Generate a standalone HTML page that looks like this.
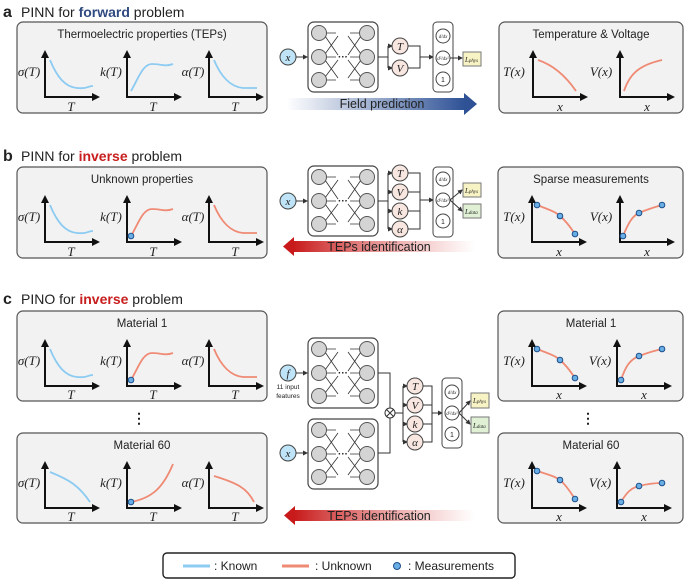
<!DOCTYPE html>
<html><head><meta charset="utf-8"><style>
html,body{margin:0;padding:0;background:#fff}
svg{display:block}
.t{font-family:"Liberation Sans",sans-serif;fill:#222}
.m{font-family:"Liberation Serif",serif;font-style:italic;fill:#222}
.bx{fill:#f2f2f2;stroke:#555;stroke-width:1.2}
.ax{stroke:#111;stroke-width:2;fill:none}
.bl{stroke:#8ccbf2;stroke-width:1.8;fill:none}
.rd{stroke:#ef8a74;stroke-width:1.8;fill:none}
.dt{fill:#6aaee6;stroke:#1d4f8a;stroke-width:1}
.ln{stroke:#333;stroke-width:1;fill:none}
.on{fill:#f8e6e0;stroke:#444;stroke-width:1}
</style></head><body>
<svg width="685" height="581" viewBox="0 0 685 581" xmlns="http://www.w3.org/2000/svg">
<defs>
<marker id="sa" markerWidth="5" markerHeight="5" refX="4" refY="2.5" orient="auto" markerUnits="userSpaceOnUse"><path d="M0,0 L5,2.5 L0,5 z" fill="#333"/></marker>
<g id="axes">
<line class="ax" x1="0" y1="0" x2="0" y2="-40" /><path d="M-4,-39 L0,-47 L4,-39z" fill="#111"/>
<line class="ax" x1="-1" y1="0" x2="48" y2="0"/><path d="M47,-4 L55,0 L47,4z" fill="#111"/>
</g>
<g id="net">
<rect x="0" y="0" width="70" height="70" rx="6" fill="#fff" stroke="#444" stroke-width="1.2"/>
<g stroke="#333" stroke-width="0.8" fill="none">
<path d="M18,11 H28 M18,35 H28 M18,58 H28 M52,11 H42 M52,35 H42 M52,58 H42"/>
<path d="M17,14 L30,33 M17,32 L30,14 M17,38 L30,56 M17,55 L30,38"/>
<path d="M53,14 L40,33 M53,32 L40,14 M53,38 L40,56 M53,55 L40,38"/>
</g>
<g fill="#d4d4d4" stroke="#555" stroke-width="1">
<circle cx="11" cy="11" r="7.5"/><circle cx="11" cy="35" r="7.5"/><circle cx="11" cy="58" r="7.5"/>
<circle cx="59" cy="11" r="7.5"/><circle cx="59" cy="35" r="7.5"/><circle cx="59" cy="58" r="7.5"/>
</g>
<text x="35" y="38" text-anchor="middle" class="t" font-size="10" font-weight="bold">···</text>
</g>
<linearGradient id="gb" x1="0" x2="1"><stop offset="0" stop-color="#3d5fa0" stop-opacity="0"/><stop offset="1" stop-color="#2f5296"/></linearGradient>
<linearGradient id="gr" x1="0" x2="1"><stop offset="0" stop-color="#c81a1a"/><stop offset="1" stop-color="#e06060" stop-opacity="0"/></linearGradient>
</defs>

<!-- ===== A ===== -->
<text x="3" y="17" class="t" font-size="16" font-weight="bold">a</text>
<text x="21" y="17" class="t" font-size="14">PINN for <tspan font-weight="bold" fill="#2f4a80">forward</tspan> problem</text>
<rect class="bx" x="17" y="22" width="250" height="91" rx="6"/>
<text x="142" y="38" text-anchor="middle" class="t" font-size="11.5">Thermoelectric properties (TEPs)</text>
<use href="#axes" x="45" y="97"/><use href="#axes" x="127" y="97"/><use href="#axes" x="209" y="97"/>
<text x="29" y="76" text-anchor="middle" class="m" font-size="13">σ(T)</text>
<text x="111" y="76" text-anchor="middle" class="m" font-size="13">k(T)</text>
<text x="193" y="76" text-anchor="middle" class="m" font-size="13">α(T)</text>
<text x="71" y="111" text-anchor="middle" class="m" font-size="13">T</text>
<text x="153" y="111" text-anchor="middle" class="m" font-size="13">T</text>
<text x="235" y="111" text-anchor="middle" class="m" font-size="13">T</text>
<path class="bl" transform="translate(45,97)" d="M5,-37 C12,-20 20,-10 32,-9 S42,-11 48,-11"/>
<path class="bl" transform="translate(127,97)" d="M4,-6 C12,-20 16,-33 25,-33 S38,-30 46,-33"/>
<path class="bl" transform="translate(209,97)" d="M5,-37 C12,-20 22,-10 34,-9 L48,-9"/>

<use href="#net" x="308" y="22"/>
<circle cx="288" cy="57" r="8" fill="#bfe3f7" stroke="#444"/><text x="288" y="61" text-anchor="middle" class="m" font-size="11">x</text>
<line class="ln" x1="296" y1="57" x2="307" y2="57" marker-end="url(#sa)"/>
<path class="ln" d="M378,57 H388 M388,46 V68"/>
<line class="ln" x1="388" y1="46" x2="392" y2="46" marker-end="url(#sa)"/><line class="ln" x1="388" y1="68" x2="392" y2="68" marker-end="url(#sa)"/>
<circle class="on" cx="400" cy="46" r="8"/><text x="400" y="50" text-anchor="middle" class="m" font-size="11">T</text>
<circle class="on" cx="400" cy="68" r="8"/><text x="400" y="72" text-anchor="middle" class="m" font-size="11">V</text>
<path class="ln" d="M408,46 H420 V68 H408 M420,57 H432" /><line class="ln" x1="420" y1="57" x2="433" y2="57" marker-end="url(#sa)"/>
<rect x="433" y="22" width="20" height="70" rx="4" fill="#fff" stroke="#444"/>
<circle cx="443" cy="36" r="7" fill="#fff" stroke="#444"/><text x="443" y="38" text-anchor="middle" class="m" font-size="5">d/dx</text>
<circle cx="443" cy="58" r="7" fill="#fff" stroke="#444"/><text x="443" y="60" text-anchor="middle" class="m" font-size="5">d²/dx²</text>
<circle cx="443" cy="79" r="7" fill="#fff" stroke="#444"/><text x="443" y="82" text-anchor="middle" class="t" font-size="7">1</text>
<line class="ln" x1="450" y1="58" x2="462" y2="58" marker-end="url(#sa)"/>
<rect x="463" y="52" width="18" height="14" fill="#f8f3c4" stroke="#777"/><text x="465" y="62" class="m" font-size="7">L<tspan font-size="5">phys</tspan></text>
<rect x="286" y="98" width="178" height="12" fill="url(#gb)"/><path d="M464,93 L477,104 L464,115z" fill="#2f5296"/>
<text x="382" y="108" text-anchor="middle" class="t" font-size="12.5">Field prediction</text>
<rect class="bx" x="499" y="22" width="184" height="91" rx="6"/>
<text x="591" y="38" text-anchor="middle" class="t" font-size="11.5">Temperature &amp; Voltage</text>
<use href="#axes" x="533" y="97"/><use href="#axes" x="620" y="97"/>
<text x="514" y="76" text-anchor="middle" class="m" font-size="13">T(x)</text>
<text x="601" y="76" text-anchor="middle" class="m" font-size="13">V(x)</text>
<text x="560" y="111" text-anchor="middle" class="m" font-size="13">x</text>
<text x="647" y="111" text-anchor="middle" class="m" font-size="13">x</text>
<path class="rd" transform="translate(533,97)" d="M5,-37 C20,-32 32,-22 43,-6"/>
<path class="rd" transform="translate(620,97)" d="M4,-6 C10,-24 20,-32 42,-37"/>

<!-- ===== B ===== -->
<text x="3" y="161" class="t" font-size="16" font-weight="bold">b</text>
<text x="21" y="161" class="t" font-size="14">PINN for <tspan font-weight="bold" fill="#c81e1e">inverse</tspan> problem</text>
<rect class="bx" x="17" y="167" width="250" height="91" rx="6"/>
<text x="142" y="183" text-anchor="middle" class="t" font-size="11.5">Unknown properties</text>
<use href="#axes" x="45" y="242"/><use href="#axes" x="127" y="242"/><use href="#axes" x="209" y="242"/>
<text x="29" y="221" text-anchor="middle" class="m" font-size="13">σ(T)</text>
<text x="111" y="221" text-anchor="middle" class="m" font-size="13">k(T)</text>
<text x="193" y="221" text-anchor="middle" class="m" font-size="13">α(T)</text>
<text x="71" y="256" text-anchor="middle" class="m" font-size="13">T</text>
<text x="153" y="256" text-anchor="middle" class="m" font-size="13">T</text>
<text x="235" y="256" text-anchor="middle" class="m" font-size="13">T</text>
<path class="bl" transform="translate(45,242)" d="M5,-37 C12,-20 20,-10 32,-9 S42,-11 48,-11"/>
<path class="rd" transform="translate(127,242)" d="M4,-6 C12,-20 16,-33 25,-33 S38,-30 46,-33"/>
<circle class="dt" cx="131" cy="236" r="2.8"/>
<path class="rd" transform="translate(209,242)" d="M5,-37 C12,-20 22,-10 34,-9 L48,-9"/>

<use href="#net" x="308" y="166"/>
<circle cx="288" cy="201" r="8" fill="#bfe3f7" stroke="#444"/><text x="288" y="205" text-anchor="middle" class="m" font-size="11">x</text>
<line class="ln" x1="296" y1="201" x2="307" y2="201" marker-end="url(#sa)"/>
<path class="ln" d="M378,201 H388 M388,173 V229"/>
<g class="ln"><line x1="388" y1="173" x2="392" y2="173" marker-end="url(#sa)"/><line x1="388" y1="192" x2="392" y2="192" marker-end="url(#sa)"/><line x1="388" y1="211" x2="392" y2="211" marker-end="url(#sa)"/><line x1="388" y1="229" x2="392" y2="229" marker-end="url(#sa)"/></g>
<circle class="on" cx="400" cy="173" r="8"/><text x="400" y="177" text-anchor="middle" class="m" font-size="11">T</text>
<circle class="on" cx="400" cy="192" r="8"/><text x="400" y="196" text-anchor="middle" class="m" font-size="11">V</text>
<circle class="on" cx="400" cy="211" r="8"/><text x="400" y="215" text-anchor="middle" class="m" font-size="11">k</text>
<circle class="on" cx="400" cy="229" r="8"/><text x="400" y="233" text-anchor="middle" class="m" font-size="11">α</text>
<path class="ln" d="M408,173 H420 V229 H408 M408,192 H420 M408,211 H420"/><line class="ln" x1="420" y1="200" x2="433" y2="200" marker-end="url(#sa)"/>
<rect x="433" y="167" width="20" height="70" rx="4" fill="#fff" stroke="#444"/>
<circle cx="443" cy="179" r="7" fill="#fff" stroke="#444"/><text x="443" y="181" text-anchor="middle" class="m" font-size="5">d/dx</text>
<circle cx="443" cy="200" r="7" fill="#fff" stroke="#444"/><text x="443" y="202" text-anchor="middle" class="m" font-size="5">d²/dx²</text>
<circle cx="443" cy="221" r="7" fill="#fff" stroke="#444"/><text x="443" y="224" text-anchor="middle" class="t" font-size="7">1</text>
<line class="ln" x1="450" y1="200" x2="462" y2="190" marker-end="url(#sa)"/><line class="ln" x1="450" y1="200" x2="462" y2="211" marker-end="url(#sa)"/>
<rect x="463" y="183" width="18" height="14" fill="#f8f3c4" stroke="#777"/><text x="465" y="193" class="m" font-size="7">L<tspan font-size="5">phys</tspan></text>
<rect x="463" y="204" width="18" height="14" fill="#dff0d4" stroke="#777"/><text x="465" y="214" class="m" font-size="7">L<tspan font-size="5">data</tspan></text>
<rect x="293" y="241" width="182" height="11" fill="url(#gr)"/><path d="M294,237 L283,246.5 L294,256z" fill="#c81a1a"/>
<text x="379" y="251" text-anchor="middle" class="t" font-size="12.5">TEPs identification</text>
<rect class="bx" x="498" y="167" width="185" height="91" rx="6"/>
<text x="591" y="183" text-anchor="middle" class="t" font-size="11.5">Sparse measurements</text>
<use href="#axes" x="532" y="242"/><use href="#axes" x="620" y="242"/>
<text x="514" y="221" text-anchor="middle" class="m" font-size="13">T(x)</text>
<text x="601" y="221" text-anchor="middle" class="m" font-size="13">V(x)</text>
<text x="559" y="256" text-anchor="middle" class="m" font-size="13">x</text>
<text x="647" y="256" text-anchor="middle" class="m" font-size="13">x</text>
<path class="rd" transform="translate(532,242)" d="M5,-37 C18,-32 24,-30 28,-26 C34,-21 39,-14 43,-8"/>
<circle class="dt" cx="537" cy="205" r="2.8"/><circle class="dt" cx="560" cy="216" r="2.8"/><circle class="dt" cx="575" cy="234" r="2.8"/>
<path class="rd" transform="translate(620,242)" d="M3,-6 C8,-18 12,-26 19,-29 C28,-33 35,-35 42,-37"/>
<circle class="dt" cx="623" cy="236" r="2.8"/><circle class="dt" cx="639" cy="213" r="2.8"/><circle class="dt" cx="662" cy="205" r="2.8"/>

<!-- ===== C ===== -->
<text x="3" y="304" class="t" font-size="16" font-weight="bold">c</text>
<text x="21" y="304" class="t" font-size="14">PINO for <tspan font-weight="bold" fill="#c81e1e">inverse</tspan> problem</text>
<rect class="bx" x="17" y="311" width="250" height="90" rx="6"/>
<text x="142" y="327" text-anchor="middle" class="t" font-size="11.5">Material 1</text>
<use href="#axes" x="45" y="386"/><use href="#axes" x="127" y="386"/><use href="#axes" x="209" y="386"/>
<text x="29" y="365" text-anchor="middle" class="m" font-size="13">σ(T)</text>
<text x="111" y="365" text-anchor="middle" class="m" font-size="13">k(T)</text>
<text x="193" y="365" text-anchor="middle" class="m" font-size="13">α(T)</text>
<text x="71" y="399" text-anchor="middle" class="m" font-size="13">T</text>
<text x="153" y="399" text-anchor="middle" class="m" font-size="13">T</text>
<text x="235" y="399" text-anchor="middle" class="m" font-size="13">T</text>
<path class="bl" transform="translate(45,386)" d="M5,-37 C12,-20 20,-10 32,-9 S42,-11 48,-11"/>
<path class="rd" transform="translate(127,386)" d="M4,-6 C12,-20 16,-33 25,-33 S38,-30 46,-33"/>
<circle class="dt" cx="131" cy="380" r="2.8"/>
<path class="rd" transform="translate(209,386)" d="M5,-37 C12,-20 22,-10 34,-9 L48,-9"/>
<text x="139" y="423" text-anchor="middle" class="t" font-size="14" font-weight="bold">⋮</text>
<rect class="bx" x="17" y="433" width="250" height="90" rx="6"/>
<text x="142" y="449" text-anchor="middle" class="t" font-size="11.5">Material 60</text>
<use href="#axes" x="45" y="508"/><use href="#axes" x="127" y="508"/><use href="#axes" x="209" y="508"/>
<text x="29" y="487" text-anchor="middle" class="m" font-size="13">σ(T)</text>
<text x="111" y="487" text-anchor="middle" class="m" font-size="13">k(T)</text>
<text x="193" y="487" text-anchor="middle" class="m" font-size="13">α(T)</text>
<text x="71" y="521" text-anchor="middle" class="m" font-size="13">T</text>
<text x="153" y="521" text-anchor="middle" class="m" font-size="13">T</text>
<text x="235" y="521" text-anchor="middle" class="m" font-size="13">T</text>
<path class="bl" transform="translate(45,508)" d="M5,-36 C25,-28 34,-22 45,-6"/>
<path class="rd" transform="translate(127,508)" d="M4,-6 C25,-10 36,-20 46,-44"/>
<circle class="dt" cx="131" cy="502" r="2.8"/>
<path class="rd" transform="translate(209,508)" d="M5,-32 C28,-25 38,-20 45,-6"/>

<use href="#net" x="308" y="338"/>
<use href="#net" x="308" y="419"/>
<circle cx="288" cy="373" r="8" fill="#bfe3f7" stroke="#444"/><text x="288" y="377" text-anchor="middle" class="m" font-size="11">f</text>
<text x="288" y="389" text-anchor="middle" class="t" font-size="6.5">11 input</text>
<text x="288" y="398" text-anchor="middle" class="t" font-size="6.5">features</text>
<line class="ln" x1="296" y1="373" x2="307" y2="373" marker-end="url(#sa)"/>
<circle cx="288" cy="453" r="8" fill="#bfe3f7" stroke="#444"/><text x="288" y="457" text-anchor="middle" class="m" font-size="11">x</text>
<line class="ln" x1="296" y1="453" x2="307" y2="453" marker-end="url(#sa)"/>
<path class="ln" d="M378,373 H390 V408 M378,453 H390 V418 M395,413 H403 M403,386 V442"/>
<circle cx="390" cy="413" r="5" fill="#fff" stroke="#333"/><path class="ln" d="M386.5,409.5 L393.5,416.5 M393.5,409.5 L386.5,416.5"/>
<g class="ln"><line x1="403" y1="386" x2="407" y2="386" marker-end="url(#sa)"/><line x1="403" y1="405" x2="407" y2="405" marker-end="url(#sa)"/><line x1="403" y1="424" x2="407" y2="424" marker-end="url(#sa)"/><line x1="403" y1="442" x2="407" y2="442" marker-end="url(#sa)"/></g>
<circle class="on" cx="415" cy="386" r="8"/><text x="415" y="390" text-anchor="middle" class="m" font-size="11">T</text>
<circle class="on" cx="415" cy="405" r="8"/><text x="415" y="409" text-anchor="middle" class="m" font-size="11">V</text>
<circle class="on" cx="415" cy="424" r="8"/><text x="415" y="428" text-anchor="middle" class="m" font-size="11">k</text>
<circle class="on" cx="415" cy="442" r="8"/><text x="415" y="446" text-anchor="middle" class="m" font-size="11">α</text>
<path class="ln" d="M423,386 H432 V442 H423 M423,405 H432 M423,424 H432"/><line class="ln" x1="432" y1="413" x2="442" y2="413" marker-end="url(#sa)"/>
<rect x="442" y="378" width="20" height="70" rx="4" fill="#fff" stroke="#444"/>
<circle cx="452" cy="392" r="7" fill="#fff" stroke="#444"/><text x="452" y="394" text-anchor="middle" class="m" font-size="5">d/dx</text>
<circle cx="452" cy="413" r="7" fill="#fff" stroke="#444"/><text x="452" y="415" text-anchor="middle" class="m" font-size="5">d²/dx²</text>
<circle cx="452" cy="434" r="7" fill="#fff" stroke="#444"/><text x="452" y="437" text-anchor="middle" class="t" font-size="7">1</text>
<line class="ln" x1="459" y1="413" x2="470" y2="401" marker-end="url(#sa)"/><line class="ln" x1="459" y1="413" x2="470" y2="424" marker-end="url(#sa)"/>
<rect x="471" y="393" width="18" height="15" fill="#f8f3c4" stroke="#777"/><text x="473" y="403" class="m" font-size="7">L<tspan font-size="5">phys</tspan></text>
<rect x="471" y="417" width="18" height="16" fill="#dff0d4" stroke="#777"/><text x="473" y="428" class="m" font-size="7">L<tspan font-size="5">data</tspan></text>
<rect x="294" y="510" width="181" height="11" fill="url(#gr)"/><path d="M295,506 L284,515.5 L295,525z" fill="#c81a1a"/>
<text x="379" y="520" text-anchor="middle" class="t" font-size="12.5">TEPs identification</text>

<rect class="bx" x="498" y="311" width="185" height="90" rx="6"/>
<text x="591" y="327" text-anchor="middle" class="t" font-size="11.5">Material 1</text>
<use href="#axes" x="532" y="386"/><use href="#axes" x="617" y="386"/>
<text x="514" y="365" text-anchor="middle" class="m" font-size="13">T(x)</text>
<text x="600" y="365" text-anchor="middle" class="m" font-size="13">V(x)</text>
<text x="559" y="399" text-anchor="middle" class="m" font-size="13">x</text>
<text x="644" y="399" text-anchor="middle" class="m" font-size="13">x</text>
<path class="rd" transform="translate(532,386)" d="M5,-37 C18,-32 24,-30 28,-26 C34,-21 39,-14 43,-8"/>
<circle class="dt" cx="537" cy="349" r="2.8"/><circle class="dt" cx="560" cy="360" r="2.8"/><circle class="dt" cx="575" cy="378" r="2.8"/>
<path class="rd" transform="translate(617,386)" d="M4,-6 C8,-18 12,-26 22,-30 C30,-33 36,-35 45,-37"/>
<circle class="dt" cx="621" cy="380" r="2.8"/><circle class="dt" cx="639" cy="356" r="2.8"/><circle class="dt" cx="662" cy="349" r="2.8"/>
<text x="588" y="423" text-anchor="middle" class="t" font-size="14" font-weight="bold">⋮</text>
<rect class="bx" x="498" y="433" width="185" height="90" rx="6"/>
<text x="591" y="449" text-anchor="middle" class="t" font-size="11.5">Material 60</text>
<use href="#axes" x="532" y="508"/><use href="#axes" x="617" y="508"/>
<text x="514" y="487" text-anchor="middle" class="m" font-size="13">T(x)</text>
<text x="600" y="487" text-anchor="middle" class="m" font-size="13">V(x)</text>
<text x="559" y="521" text-anchor="middle" class="m" font-size="13">x</text>
<text x="644" y="521" text-anchor="middle" class="m" font-size="13">x</text>
<path class="rd" transform="translate(532,508)" d="M5,-37 C18,-33 24,-31 28,-28 C35,-22 39,-15 43,-9"/>
<circle class="dt" cx="537" cy="471" r="2.8"/><circle class="dt" cx="560" cy="480" r="2.8"/><circle class="dt" cx="575" cy="499" r="2.8"/>
<path class="rd" transform="translate(617,508)" d="M4,-6 C10,-16 14,-20 22,-22 C30,-24 36,-25 45,-25"/>
<circle class="dt" cx="621" cy="502" r="2.8"/><circle class="dt" cx="639" cy="486" r="2.8"/><circle class="dt" cx="662" cy="483" r="2.8"/>

<rect x="163" y="553" width="352" height="25" rx="4" fill="#fff" stroke="#222" stroke-width="1.4"/>
<line x1="183" y1="566" x2="210" y2="566" stroke="#8ccbf2" stroke-width="3"/>
<text x="214" y="570" class="t" font-size="12">: Known</text>
<line x1="282" y1="566" x2="309" y2="566" stroke="#ef8a74" stroke-width="3"/>
<text x="315" y="570" class="t" font-size="12">: Unknown</text>
<circle cx="397" cy="566" r="3.5" class="dt"/>
<text x="408" y="570" class="t" font-size="12">: Measurements</text>
</svg>
</body></html>
